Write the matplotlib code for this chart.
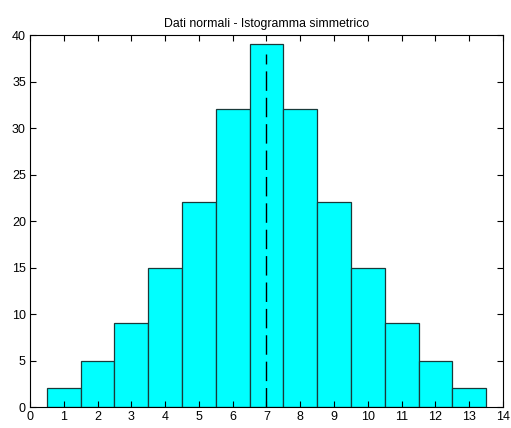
import matplotlib
matplotlib.use('Agg')
import matplotlib.pyplot as plt

# dati dell'istogramma
centers = [1, 2, 3, 4, 5, 6, 7, 8, 9, 10, 11, 12, 13]
counts = [2, 5, 9, 15, 22, 32, 39, 32, 22, 15, 9, 5, 2]
mean_x = 7
line_top = 38

plt.rcParams['font.family'] = ['Liberation Sans', 'DejaVu Sans']

fig = plt.figure(figsize=(5.11, 4.28), dpi=100)
ax = fig.add_axes([0.0587, 0.049, 0.9256, 0.869])

ax.bar(centers, counts, width=1.0, color='#00ffff', edgecolor='#1a3a3a', linewidth=0.9)
ax.plot([mean_x, mean_x], [0, line_top], color='black', linestyle=(0, (14, 5)), linewidth=1.0)

ax.set_xlim(0, 14)
ax.set_ylim(0, 40)
ax.set_xticks(range(0, 15))
ax.set_yticks(range(0, 41, 5))
ax.tick_params(direction='in', top=True, right=True, labelsize=9, length=4, width=0.8, pad=3)
for s in ax.spines.values():
    s.set_linewidth(0.8)
ax.set_title('Dati normali - Istogramma simmetrico', fontsize=8.8, pad=6)

fig.savefig('out.png', dpi=100)
